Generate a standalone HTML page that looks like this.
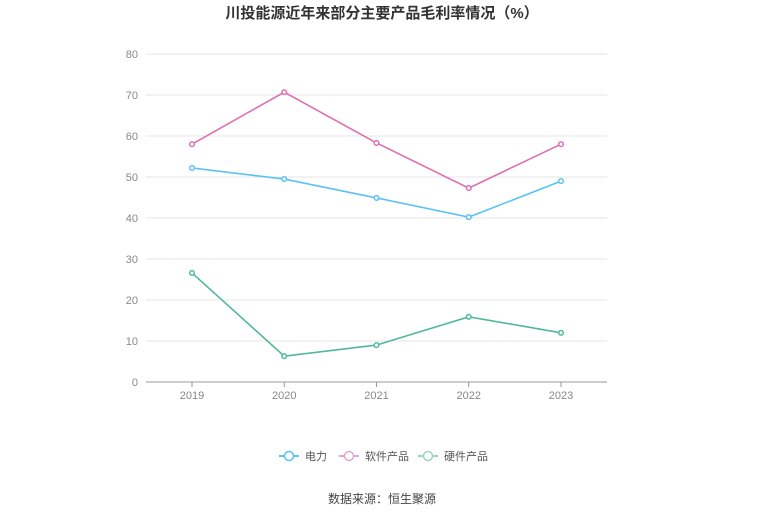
<!DOCTYPE html>
<html><head><meta charset="utf-8"><style>
body{margin:0;background:#fff;font-family:"Liberation Sans","Noto Sans CJK SC",sans-serif;}
</style></head><body>
<svg id="chart" width="765" height="517" xmlns="http://www.w3.org/2000/svg" font-family="Liberation Sans, Noto Sans CJK SC, sans-serif">
<text x="382" y="18" text-anchor="middle" font-size="15" font-weight="bold" fill="#333">川投能源近年来部分主要产品毛利率情况（%）</text>
<g id="grid"></g>
<g id="series"></g>
<g font-size="11" fill="#555">
<g><line x1="279" y1="456" x2="299" y2="456" stroke="#5bc2f5" stroke-width="2"/><circle cx="289" cy="456" r="4.5" fill="#fff" stroke="#5bc2f5" stroke-width="1.5"/><text x="305" y="460">电力</text></g>
<g><line x1="339" y1="456" x2="359" y2="456" stroke="#e7a3d1" stroke-width="2"/><circle cx="349" cy="456" r="4.5" fill="#fff" stroke="#e7a3d1" stroke-width="1.5"/><text x="365" y="460">软件产品</text></g>
<g><line x1="418" y1="456" x2="438" y2="456" stroke="#96d8c4" stroke-width="2"/><circle cx="428" cy="456" r="4.5" fill="#fff" stroke="#96d8c4" stroke-width="1.5"/><text x="444" y="460">硬件产品</text></g>
</g>
<text x="382" y="503" text-anchor="middle" font-size="12" fill="#444">数据来源：恒生聚源</text>
</svg>
<script>
const categories=["2019","2020","2021","2022","2023"];
const power=[52.2,49.5,44.9,40.2,49.0];
const software=[58.0,70.7,58.3,47.3,58.0];
const hardware=[26.6,6.3,9.0,15.9,12.0];
const yTicks=[0,10,20,30,40,50,60,70,80];
const NS="http://www.w3.org/2000/svg";
const x0=146,x1=607,yBase=382,yTop=54;
const xs=i=>192+i*92.25;
const ys=v=>yBase-(v/80)*(yBase-yTop);
function mk(t,a,p){const e=document.createElementNS(NS,t);for(const k in a)e.setAttribute(k,a[k]);p.appendChild(e);return e;}
const grid=document.getElementById('grid');
yTicks.forEach(v=>{
 const l=mk('line',{x1:x0,x2:x1,y1:ys(v),y2:ys(v),stroke:v===0?'#999':'#e6e6e6','stroke-width':1},grid);
 
 
 const t=mk('text',{x:138,y:ys(v)+4,'text-anchor':'end','font-size':11,fill:'#888'},grid);
 t.textContent=v;
 
 
});
categories.forEach((c,i)=>{
 const tk=mk('line',{x1:xs(i),x2:xs(i),y1:yBase,y2:yBase+5,stroke:'#999'},grid);
 
 
 const t=mk('text',{x:xs(i),y:399,'text-anchor':'middle','font-size':11,fill:'#888'},grid);
 t.textContent=c;
 
 
});
const sg=document.getElementById('series');
[[power,'#5bc2f5','power'],[software,'#de6fb4','software'],[hardware,'#4fb99c','hardware']].forEach(([d,col,n])=>{
 const p=mk('polyline',{points:d.map((v,i)=>xs(i)+','+ys(v)).join(' '),fill:'none',stroke:col,'stroke-width':1.6},sg);
 
 
 d.forEach((v,i)=>{
  const c=mk('circle',{cx:xs(i),cy:ys(v),r:2.3,fill:'#fff',stroke:col,'stroke-width':1.5},sg);
  
  
 });
});
</script>
</body></html>
